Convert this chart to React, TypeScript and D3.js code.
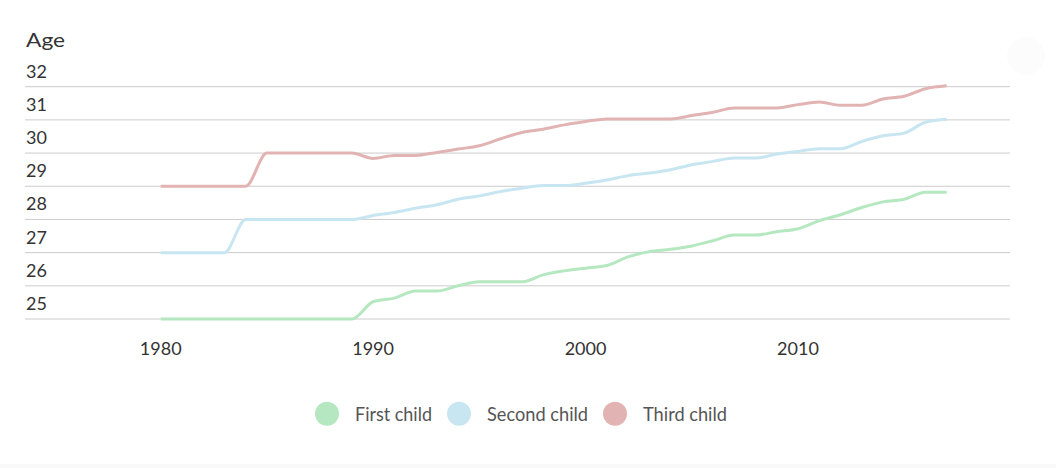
import * as d3 from 'd3';

const years = [
    1980, 1981, 1982, 1983, 1984, 1985, 1986, 1987, 1988, 1989,
    1990, 1991, 1992, 1993, 1994, 1995, 1996, 1997, 1998, 1999,
    2000, 2001, 2002, 2003, 2004, 2005, 2006, 2007, 2008, 2009,
    2010, 2011, 2012, 2013, 2014, 2015, 2016, 2017
];

const firstChild = [
    25, 25, 25, 25, 25, 25, 25, 25, 25, 25,
    25.52, 25.63, 25.84, 25.84, 26.0, 26.12, 26.12, 26.12, 26.33, 26.45,
    26.53, 26.61, 26.87, 27.03, 27.1, 27.2, 27.36, 27.53, 27.53, 27.63,
    27.72, 27.96, 28.14, 28.36, 28.53, 28.61, 28.82, 28.82
];

const secondChild = [
    27, 27, 27, 27, 28, 28, 28, 28, 28, 28,
    28.12, 28.21, 28.34, 28.44, 28.61, 28.71, 28.84, 28.94, 29.02, 29.02,
    29.09, 29.19, 29.32, 29.4, 29.5, 29.65, 29.75, 29.85, 29.85, 29.97,
    30.05, 30.13, 30.13, 30.35, 30.52, 30.6, 30.93, 31.02
];

const thirdChild = [
    29, 29, 29, 29, 29, 30, 30, 30, 30, 30,
    29.84, 29.93, 29.93, 30.02, 30.12, 30.22, 30.43, 30.62, 30.72, 30.85,
    30.95, 31.03, 31.03, 31.03, 31.03, 31.13, 31.23, 31.36, 31.36, 31.36,
    31.46, 31.54, 31.44, 31.44, 31.63, 31.71, 31.94, 32.03
];

const seriesNames = ['First child', 'Second child', 'Third child'];
const seriesColors = ['#b5e8c0', '#c7e6f1', '#e2b3b3'];
const yTicks = [25, 26, 27, 28, 29, 30, 31, 32];
const xTicks = [1980, 1990, 2000, 2010];

const width = 1056;
const height = 468;

const x = d3.scaleLinear().domain([1980, 2017]).range([160.7, 946.7]);
const y = d3.scaleLinear().domain([25, 32]).range([319, 86.7]);

const line = d3
    .line<number>()
    .x((_, i) => x(years[i]))
    .y((d) => y(d))
    .curve(d3.curveMonotoneX);

const font = 'Lato, "Open Sans", sans-serif';

export default function App() {
    const series = [firstChild, secondChild, thirdChild];

    // legend layout: circle, gap, label, gap
    const legendWidths = [77, 101, 84];
    let cursor = 327;
    const legend = seriesNames.map((name, i) => {
        const item = { name, color: seriesColors[i], cx: cursor, tx: cursor + 28, w: legendWidths[i] };
        cursor = item.tx + item.w + 27;
        return item;
    });

    return (
        <svg
            width={width}
            height={height}
            style={{ position: 'absolute', left: 0, top: 0, background: '#fff' }}
        >
            <rect x={0} y={464} width={width} height={4} fill="#f9f9f9" />
            <circle cx={1026} cy={56} r={19} fill="#fcfcfc" />

            <text x={26} y={47} fontFamily={font} fontSize={19} fill="#333" textLength={39} lengthAdjust="spacingAndGlyphs">
                Age
            </text>

            {yTicks.map((t) => (
                <g key={t}>
                    <line x1={25} x2={1010} y1={y(t)} y2={y(t)} stroke="#cccccc" strokeWidth={1} />
                    <text x={26} y={y(t) - 9} fontFamily={font} fontSize={18} fill="#333">
                        {t}
                    </text>
                </g>
            ))}

            {xTicks.map((t) => (
                <text key={t} x={x(t)} y={355} textAnchor="middle" fontFamily={font} fontSize={18} fill="#333">
                    {t}
                </text>
            ))}

            {series.map((s, i) => (
                <path key={i} d={line(s) ?? ''} fill="none" stroke={seriesColors[i]} strokeWidth={3} />
            ))}

            {legend.map((l) => (
                <g key={l.name}>
                    <circle cx={l.cx} cy={413.7} r={12} fill={l.color} />
                    <text
                        x={l.tx}
                        y={421}
                        fontFamily={font}
                        fontSize={19}
                        fill="#555"
                        textLength={l.w}
                        lengthAdjust="spacingAndGlyphs"
                    >
                        {l.name}
                    </text>
                </g>
            ))}
        </svg>
    );
}
